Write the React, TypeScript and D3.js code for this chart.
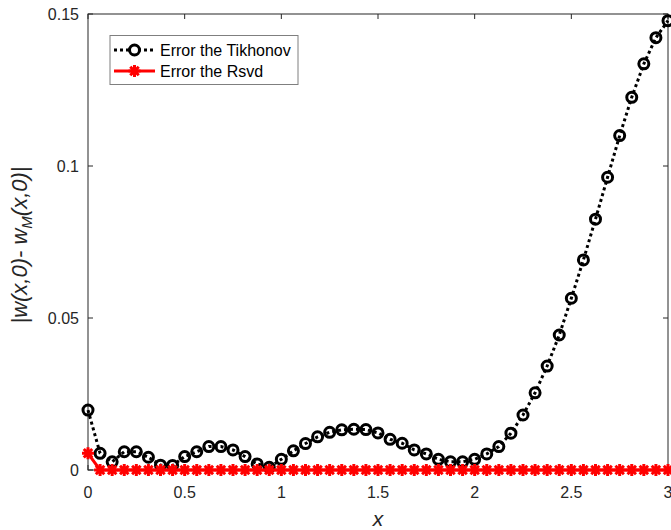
import React from "react";
import * as d3 from "d3";

// Grid of x values: 0 to 3 in steps of 1/16
const xValues: number[] = Array.from({ length: 49 }, (_, i) => i * 0.0625);

// |w(x,0) - w_M(x,0)| for the Tikhonov solution
const tikhonovError: number[] = [
  0.0197, 0.0055, 0.0027, 0.006, 0.006, 0.0042, 0.0016, 0.0015, 0.0044, 0.006,
  0.0077, 0.0077, 0.0066, 0.0044, 0.002, 0.0009, 0.0035, 0.0063, 0.0087, 0.0109,
  0.0124, 0.0132, 0.0134, 0.0133, 0.0122, 0.0101, 0.0088, 0.0066, 0.0053, 0.0035,
  0.0027, 0.0027, 0.0035, 0.0053, 0.0077, 0.0121, 0.0181, 0.0254, 0.0342, 0.0444,
  0.0565, 0.0691, 0.0825, 0.0963, 0.110, 0.1226, 0.1336, 0.1422, 0.1478,
];

// |w(x,0) - w_M(x,0)| for the RSVD solution
const rsvdError: number[] = [
  0.0055, 0, 0, 0, 0, 0, 0, 0, 0, 0, 0, 0, 0, 0, 0, 0, 0, 0, 0, 0, 0, 0, 0, 0, 0,
  0, 0, 0, 0, 0, 0, 0, 0, 0, 0, 0, 0, 0, 0, 0, 0, 0, 0, 0, 0, 0, 0, 0, 0,
];

const xTicks: number[] = [0, 0.5, 1, 1.5, 2, 2.5, 3];
const yTicks: number[] = [0, 0.05, 0.1, 0.15];
const legendLabels: string[] = ["Error the Tikhonov", "Error the Rsvd"];

const W = 671;
const H = 530;
const left = 88;
const right = 668;
const top = 14;
const bottom = 470;
const axisColor = "#262626";
const font = "'Liberation Sans', Arial, Helvetica, sans-serif";

function Star({ cx, cy, r }: { cx: number; cy: number; r: number }) {
  const d = r * Math.SQRT1_2;
  const path = `M${cx - r},${cy}L${cx + r},${cy}M${cx},${cy - r}L${cx},${cy + r}` +
    `M${cx - d},${cy - d}L${cx + d},${cy + d}M${cx - d},${cy + d}L${cx + d},${cy - d}`;
  return <path d={path} stroke="#ff0000" strokeWidth={3} fill="none" />;
}

export default function App() {
  const x = d3.scaleLinear().domain([0, 3]).range([left, right]);
  const y = d3.scaleLinear().domain([0, 0.15]).range([bottom, top]);

  const tikPts: [number, number][] = xValues.map((v, i) => [v, tikhonovError[i]]);
  const rsvdPts: [number, number][] = xValues.map((v, i) => [v, rsvdError[i]]);
  const line = d3
    .line<[number, number]>()
    .x((d) => x(d[0]))
    .y((d) => y(d[1]));

  return (
    <svg
      width={W}
      height={H}
      style={{ position: "absolute", left: 0, top: 0, background: "#fff" }}
      fontFamily={font}
    >
      <rect x={0} y={0} width={W} height={H} fill="#fff" />

      {/* axes box */}
      <rect
        x={left}
        y={top}
        width={right - left}
        height={bottom - top}
        fill="none"
        stroke={axisColor}
        strokeWidth={1}
      />

      {/* ticks */}
      {xTicks.map((t) => (
        <g key={"xt" + t}>
          <line x1={x(t)} x2={x(t)} y1={bottom} y2={bottom - 5} stroke={axisColor} />
          <line x1={x(t)} x2={x(t)} y1={top} y2={top + 5} stroke={axisColor} />
          <text
            x={x(t)}
            y={bottom + 28}
            textAnchor="middle"
            fontSize={16}
            fill={axisColor}
          >
            {String(t)}
          </text>
        </g>
      ))}
      {yTicks.map((t) => (
        <g key={"yt" + t}>
          <line x1={left} x2={left + 5} y1={y(t)} y2={y(t)} stroke={axisColor} />
          <line x1={right} x2={right - 5} y1={y(t)} y2={y(t)} stroke={axisColor} />
          <text
            x={left - 9}
            y={y(t) + 6}
            textAnchor="end"
            fontSize={16}
            fill={axisColor}
          >
            {String(t)}
          </text>
        </g>
      ))}

      {/* Tikhonov error: dotted line with circle markers */}
      <path
        d={line(tikPts) ?? ""}
        fill="none"
        stroke="#000"
        strokeWidth={3}
        strokeDasharray="3,3"
      />
      {tikPts.map((p, i) => (
        <circle
          key={"c" + i}
          cx={x(p[0])}
          cy={y(p[1])}
          r={5}
          fill="none"
          stroke="#000"
          strokeWidth={3}
        />
      ))}

      {/* RSVD error: solid red line with star markers */}
      <path d={line(rsvdPts) ?? ""} fill="none" stroke="#ff0000" strokeWidth={3} />
      {rsvdPts.map((p, i) => (
        <Star key={"s" + i} cx={x(p[0])} cy={y(p[1])} r={6} />
      ))}

      {/* legend */}
      <rect x={110} y={35.5} width={188} height={49} fill="#fff" stroke="#7f7f7f" strokeWidth={1} />
      <line x1={114} x2={155} y1={50} y2={50} stroke="#000" strokeWidth={3} strokeDasharray="3,3" />
      <circle cx={134.5} cy={50} r={5} fill="#fff" stroke="#000" strokeWidth={3} />
      <line x1={114} x2={155} y1={71} y2={71} stroke="#ff0000" strokeWidth={3} />
      <Star cx={134.5} cy={71} r={6} />
      <text x={160} y={56} fontSize={16} fill="#000">
        {legendLabels[0]}
      </text>
      <text x={160} y={77} fontSize={16} fill="#000">
        {legendLabels[1]}
      </text>

      {/* axis labels */}
      <text
        x={378}
        y={526}
        textAnchor="middle"
        fontSize={21}
        fontStyle="italic"
        fill={axisColor}
      >
        x
      </text>
      <text
        transform={`translate(27,${(top + bottom) / 2 + 3}) rotate(-90)`}
        textAnchor="middle"
        fontSize={22}
        fontStyle="italic"
        fill={axisColor}
      >
        |w(x,0)- w
        <tspan fontSize={15} dy={5}>M</tspan>
        <tspan dy={-5}>(x,0)|</tspan>
      </text>
    </svg>
  );
}
